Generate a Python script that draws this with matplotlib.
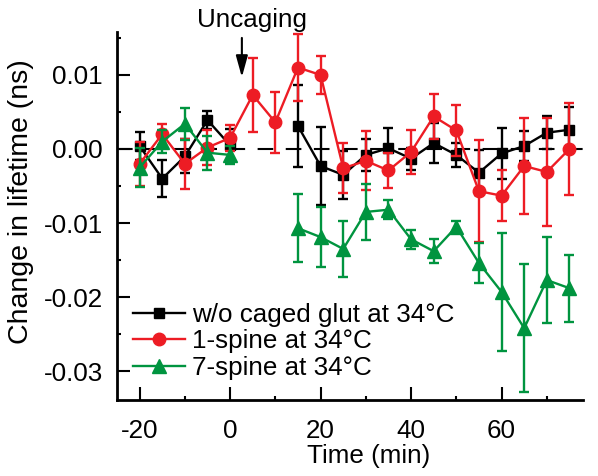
"""Lifetime change after uncaging, three conditions at 34 C."""

import numpy as np
import matplotlib
import matplotlib.pyplot as plt
from matplotlib.lines import Line2D
from matplotlib.ticker import MultipleLocator

matplotlib.use("Agg")

plt.rcParams["font.family"] = ["Liberation Sans", "DejaVu Sans"]
plt.rcParams["font.size"] = 18.7

# time points (min)
t_black = [-20, -15, -10, -5, 0, 15, 20, 25, 30, 35, 40, 45, 50, 55, 60, 65, 70, 75]
t_red = [-20, -15, -10, -5, 0, 5, 10, 15, 20, 25, 30, 35, 40, 45, 50, 55, 60, 65, 70, 75]
t_green = [-20, -15, -10, -5, 0, 15, 20, 25, 30, 35, 40, 45, 50, 55, 60, 65, 70, 75]

# change in lifetime (ns) and error bars
y_black = [0.0004, -0.0040, -0.0010, 0.0039, 0.0005, 0.0031, -0.0023, -0.0035, -0.0008,
           0.0001, -0.0013, 0.0008, -0.0008, -0.0032, -0.0006, 0.0004, 0.0022, 0.0026]
e_black = [0.0019, 0.0025, 0.0023, 0.0012, 0.0022, 0.0055, 0.0053, 0.0032, 0.0022,
           0.0027, 0.0015, 0.0027, 0.0016, 0.0030, 0.0035, 0.0020, 0.0022, 0.0031]

y_red = [-0.0020, 0.0020, -0.0020, 0.0002, 0.0015, 0.0073, 0.0036, 0.0110, 0.0100, -0.0026,
         -0.0016, -0.0029, -0.0004, 0.0044, 0.0025, -0.0057, -0.0063, -0.0023, -0.0031, 0.0000]
e_red = [0.0030, 0.0014, 0.0034, 0.0024, 0.0018, 0.0050, 0.0041, 0.0045, 0.0026, 0.0034,
         0.0040, 0.0024, 0.0030, 0.0030, 0.0035, 0.0069, 0.0034, 0.0065, 0.0073, 0.0062]

y_green = [-0.0025, 0.0010, 0.0034, -0.0005, -0.0008, -0.0107, -0.0119, -0.0135, -0.0085,
           -0.0082, -0.0122, -0.0138, -0.0105, -0.0154, -0.0193, -0.0242, -0.0177, -0.0188]
e_green = [0.0027, 0.0015, 0.0022, 0.0023, 0.0012, 0.0046, 0.0040, 0.0038, 0.0038,
           0.0013, 0.0013, 0.0016, 0.0008, 0.0027, 0.0080, 0.0086, 0.0058, 0.0045]

labels = ["w/o caged glut at 34°C", "1-spine at 34°C", "7-spine at 34°C"]

RED = "#ED1C24"
GREEN = "#00943F"
LW = 1.7

fig = plt.figure(figsize=(5.98, 4.76), dpi=100)
ax = fig.add_axes([117 / 598, 76 / 476, 466 / 598, 368 / 476])

# zero reference line
ax.axhline(0, color="black", lw=1.5, dashes=(7.5, 6), zorder=1)

series = [
    (t_black, y_black, e_black, "black", "s", 7.7),
    (t_red, y_red, e_red, RED, "o", 9.0),
    (t_green, y_green, e_green, GREEN, "^", 9.6),
]
handles = []
for i, (t, y, e, c, m, ms) in enumerate(series):
    t = np.asarray(t)
    y = np.asarray(y)
    z = 3 + i
    ax.errorbar(t, y, yerr=e, fmt="none", ecolor=c, elinewidth=LW,
                capsize=3.8, capthick=LW, zorder=z)
    # lines only join consecutive 5-min samples (gap during uncaging)
    breaks = np.where(np.diff(t) > 5)[0] + 1
    for seg_t, seg_y in zip(np.split(t, breaks), np.split(y, breaks)):
        ax.plot(seg_t, seg_y, color=c, lw=LW, marker=m, markersize=ms, zorder=z)
    handles.append(Line2D([], [], color=c, lw=LW, marker=m, markersize=ms))

ax.set_xlim(-25, 78)
ax.set_ylim(-0.0339, 0.0158)
ax.set_xticks([-20, 0, 20, 40, 60])
ax.set_yticks([-0.03, -0.02, -0.01, 0.0, 0.01])
ax.set_yticklabels(["-0.03", "-0.02", "-0.01", "0.00", "0.01"])
ax.set_xticklabels(["-20", "0", "20", "40", "60"])
ax.xaxis.set_minor_locator(MultipleLocator(10))
ax.yaxis.set_minor_locator(MultipleLocator(0.005))

ax.tick_params(which="both", direction="in", width=1.5, top=False, right=False)
ax.tick_params(which="major", length=9.5)
ax.tick_params(which="minor", length=3)
ax.tick_params(axis="y", which="major", pad=10)
ax.tick_params(axis="x", which="major", pad=14)

for side in ("top", "right"):
    ax.spines[side].set_visible(False)
for side in ("left", "bottom"):
    ax.spines[side].set_linewidth(2)

ax.set_xlabel("Time (min)")
ax.xaxis.set_label_coords(0.541, -0.12)
ax.set_ylabel("Change in lifetime (ns)", fontsize=20.5)
ax.yaxis.set_label_coords(-0.178, 0.54)

# uncaging marker
ax.annotate("", xy=(2.6, 0.0097), xytext=(2.6, 0.0150),
            arrowprops=dict(arrowstyle="-|>,head_length=0.65,head_width=0.18",
                            color="black", lw=1.5, mutation_scale=20,
                            shrinkA=0, shrinkB=0),
            annotation_clip=False)
ax.text(4.9, 0.0165, "Uncaging", ha="center", va="baseline", clip_on=False)

ax.legend(handles, labels, loc="upper left", bbox_to_anchor=(0.034, 0.264),
          frameon=False, borderpad=0, borderaxespad=0, handlelength=2.0,
          handletextpad=0.27, labelspacing=0.1)

fig.savefig("out.png", dpi=100)
